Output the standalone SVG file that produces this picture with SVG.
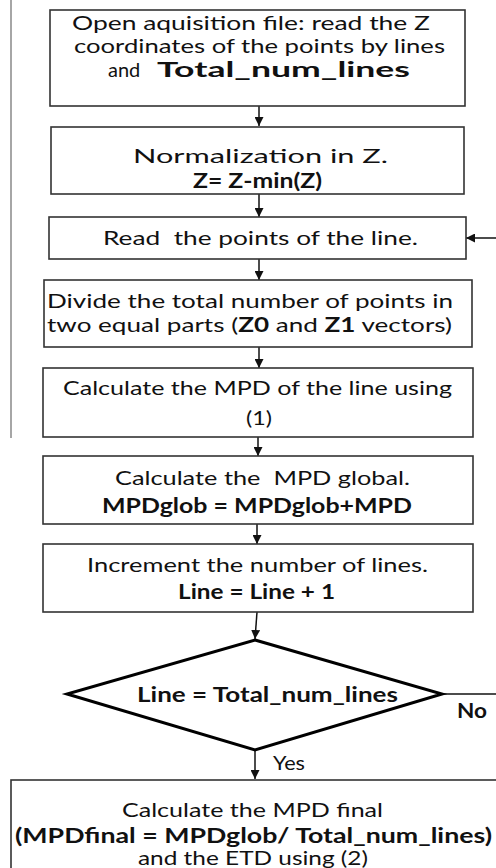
<svg xmlns="http://www.w3.org/2000/svg" width="496" height="868" viewBox="0 0 496 868">
<defs>
<marker id="ah" viewBox="0 0 10 10" refX="10" refY="5" markerWidth="9" markerHeight="9" markerUnits="userSpaceOnUse" orient="auto">
<path d="M0,0 L10,5 L0,10 z" fill="#111"/>
</marker>
<style>
.box{fill:#fff;stroke:#333;stroke-width:1.6}
.dia{fill:#fff;stroke:#000;stroke-width:3}
.t{font-family:Lato,"Open Sans",sans-serif;font-size:20px;fill:#111}
.b{font-weight:bold}
.c{stroke:#111;stroke-width:1.5;fill:none}
</style>
</defs>
<rect width="496" height="868" fill="#fff"/>
<line x1="11" y1="0" x2="11" y2="438" stroke="#888" stroke-width="1.5"/>
<g id="connectors">
<line class="c" x1="259" y1="106" x2="259" y2="126" marker-end="url(#ah)"/>
<line class="c" x1="259" y1="194" x2="259" y2="217" marker-end="url(#ah)"/>
<line class="c" x1="259" y1="259" x2="259" y2="280" marker-end="url(#ah)"/>
<line class="c" x1="259" y1="347" x2="259" y2="368" marker-end="url(#ah)"/>
<line class="c" x1="258" y1="437" x2="258" y2="456" marker-end="url(#ah)"/>
<line class="c" x1="257" y1="524" x2="257" y2="544" marker-end="url(#ah)"/>
<line class="c" x1="257" y1="612" x2="255" y2="639" marker-end="url(#ah)"/>
<line class="c" x1="255" y1="750" x2="255" y2="779" marker-end="url(#ah)"/>
<line class="c" x1="442" y1="694" x2="496" y2="694"/>
<line class="c" x1="496" y1="238" x2="466" y2="238" marker-end="url(#ah)"/>
<text class="t b" x="457" y="718" textLength="30" lengthAdjust="spacingAndGlyphs">No</text>
<text class="t" x="273" y="770" textLength="32" lengthAdjust="spacingAndGlyphs">Yes</text>
</g>
<g id="n1">
<rect class="box" x="50" y="10" width="415" height="96"/>
<text class="t" x="72" y="30" textLength="358" lengthAdjust="spacingAndGlyphs">Open aquisition file: read the Z</text>
<text class="t" x="74" y="53" textLength="371" lengthAdjust="spacingAndGlyphs">coordinates of the points by lines</text>
<text class="t" x="108" y="77">and <tspan class="b" x="157" textLength="253" lengthAdjust="spacingAndGlyphs">Total_num_lines</tspan></text>
</g>
<g id="n2">
<rect class="box" x="51" y="127" width="413" height="67"/>
<text class="t" x="133" y="163" textLength="255" lengthAdjust="spacingAndGlyphs">Normalization in Z.</text>
<text class="t b" x="193" y="188" textLength="129" lengthAdjust="spacingAndGlyphs">Z= Z-min(Z)</text>
</g>
<g id="n3">
<rect class="box" x="49" y="217" width="417" height="42"/>
<text class="t" x="103" y="245" textLength="315" lengthAdjust="spacingAndGlyphs" xml:space="preserve">Read  the points of the line.</text>
</g>
<g id="n4">
<rect class="box" x="44" y="280" width="428" height="67"/>
<text class="t" x="47" y="308" textLength="406" lengthAdjust="spacingAndGlyphs">Divide the total number of points in</text>
<text class="t" x="47" y="332" textLength="405" lengthAdjust="spacingAndGlyphs">two equal parts (<tspan class="b">Z0</tspan> and <tspan class="b">Z1</tspan> vectors)</text>
</g>
<g id="n5">
<rect class="box" x="43" y="368" width="430" height="69"/>
<text class="t" x="63" y="395" textLength="389" lengthAdjust="spacingAndGlyphs">Calculate the MPD of the line using</text>
<text class="t" x="246" y="425" textLength="26" lengthAdjust="spacingAndGlyphs">(1)</text>
</g>
<g id="n6">
<rect class="box" x="43" y="456" width="430" height="68"/>
<text class="t" x="115" y="485" textLength="295" lengthAdjust="spacingAndGlyphs" xml:space="preserve">Calculate the  MPD global.</text>
<text class="t b" x="102" y="513" textLength="310" lengthAdjust="spacingAndGlyphs">MPDglob = MPDglob+MPD</text>
</g>
<g id="n7">
<rect class="box" x="43" y="544" width="430" height="68"/>
<text class="t" x="87" y="572" textLength="341" lengthAdjust="spacingAndGlyphs">Increment the number of lines.</text>
<text class="t b" x="178" y="599" textLength="157" lengthAdjust="spacingAndGlyphs">Line = Line + 1</text>
</g>
<g id="n8">
<polygon class="dia" points="255,640 442,694 255,750 67,694"/>
<text class="t b" x="137" y="702" textLength="261" lengthAdjust="spacingAndGlyphs">Line = Total_num_lines</text>
</g>
<g id="n9">
<rect class="box" x="11" y="780" width="500" height="100"/>
<text class="t" x="122" y="817" textLength="261" lengthAdjust="spacingAndGlyphs">Calculate the MPD final</text>
<text class="t b" x="15" y="843" textLength="477" lengthAdjust="spacingAndGlyphs">(MPDfinal = MPDglob/ Total_num_lines)</text>
<text class="t" x="138" y="865" textLength="230" lengthAdjust="spacingAndGlyphs">and the ETD using (2)</text>
</g>
</svg>
